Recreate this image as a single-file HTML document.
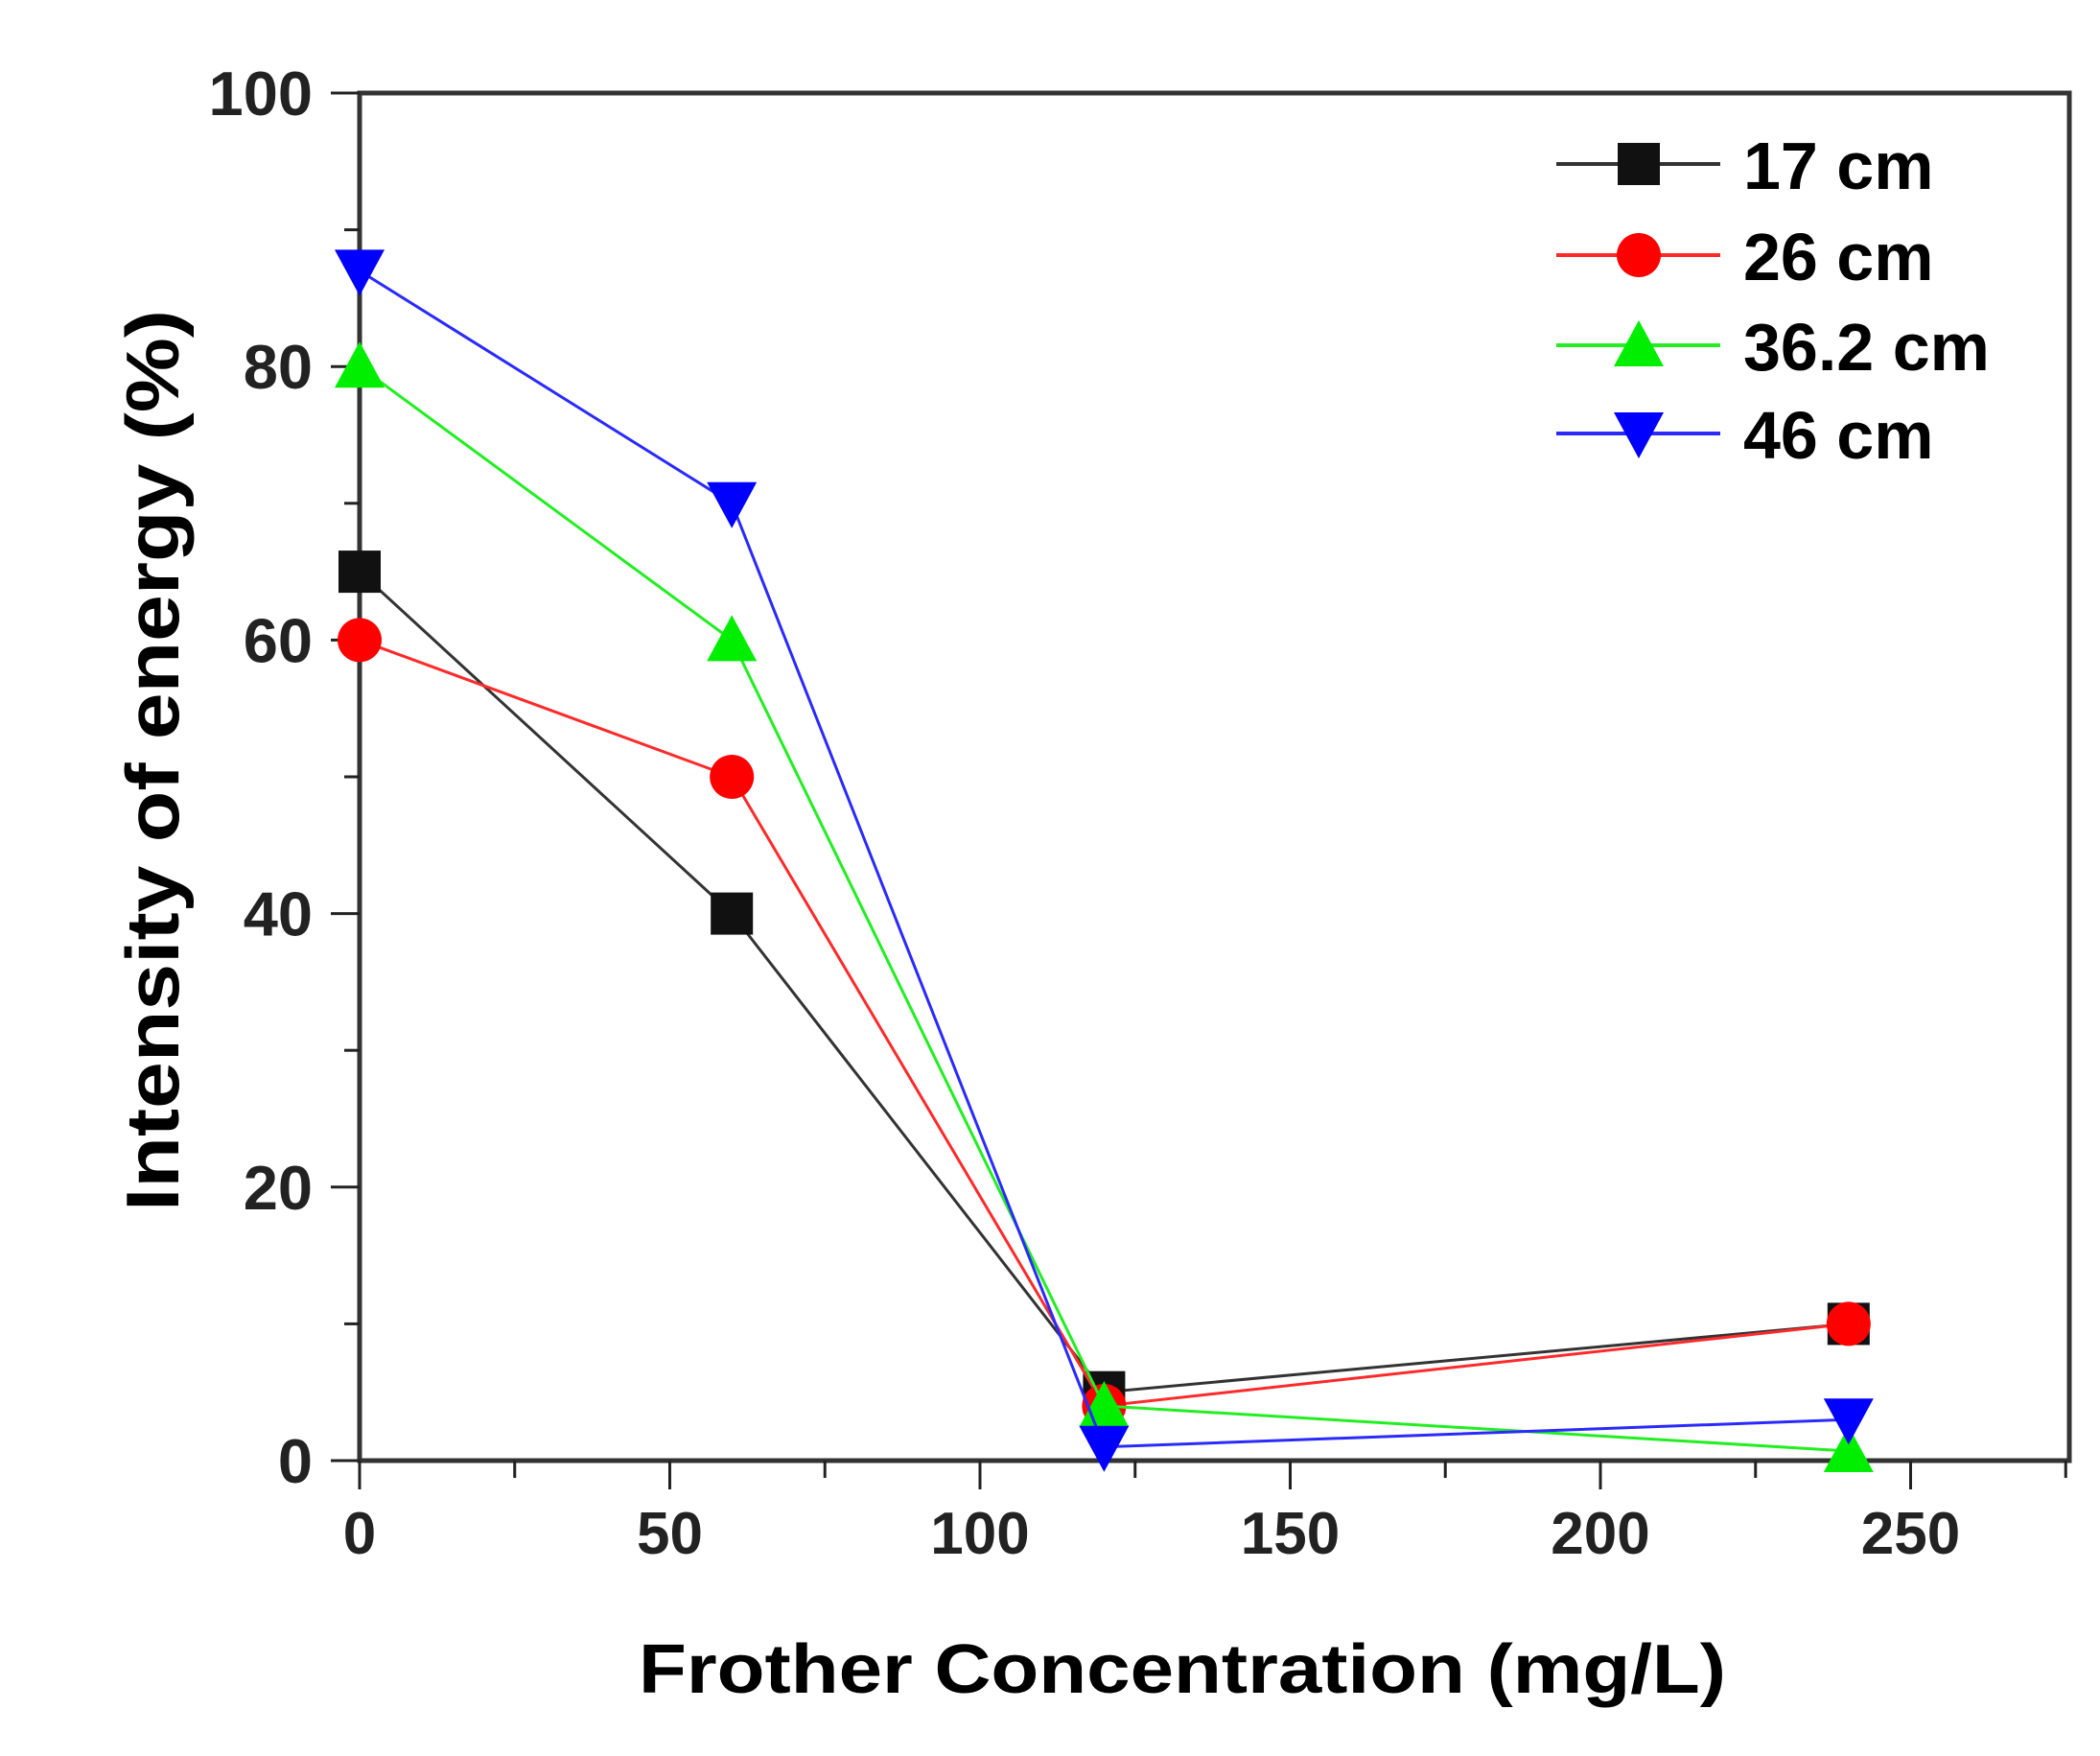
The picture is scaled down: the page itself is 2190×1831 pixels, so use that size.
<!DOCTYPE html>
<html><head><meta charset="utf-8"><style>
html,body{margin:0;padding:0;background:#fff;}
svg{display:block;font-family:"Liberation Sans",Arial,sans-serif;}
</style></head><body>
<svg id="chart" width="2190" height="1831" viewBox="0 0 2190 1831" xmlns="http://www.w3.org/2000/svg">
<rect width="2190" height="1831" fill="#fff"/>
<g id="plot"></g>
</svg>
<script>
const categories = [0, 60, 120, 240];
const s17 = [65, 40, 5, 10];
const s26 = [60, 50, 4, 10];
const s362 = [80, 60, 4, 0.7];
const s46 = [87, 70, 1, 3];
const seriesNames = ["17 cm", "26 cm", "36.2 cm", "46 cm"];
const xTicks = [0, 50, 100, 150, 200, 250];
const yTicks = [0, 20, 40, 60, 80, 100];

const NS = "http://www.w3.org/2000/svg";
const g = document.getElementById("plot");
const X0 = 375, XPX = 6.47, XR = 2158;
const Y0 = 1523, YT = 97, YPX = (Y0 - YT) / 100;
const xs = v => X0 + v * XPX;
const ys = v => Y0 - v * YPX;
function el(tag, attrs, parent) {
  const e = document.createElementNS(NS, tag);
  for (const k in attrs) e.setAttribute(k, attrs[k]);
  (parent || g).appendChild(e);
  return e;
}
const frame = el("rect", {x: X0, y: YT, width: XR - X0, height: Y0 - YT, fill: "none", stroke: "#333", "stroke-width": 5});


for (let v = 0; v <= 275; v += 25) {
  const major = v % 50 === 0;
  const t = el("line", {x1: xs(v), x2: xs(v), y1: Y0, y2: Y0 + (major ? 30 : 18), stroke: "#222", "stroke-width": 3});
  
  
}
xTicks.forEach(v => {
  const t = el("text", {x: xs(v), y: 1620, "text-anchor": "middle", "font-size": 62, "font-weight": "bold", fill: "#222"});
  t.textContent = v;
  
  
});
for (let v = 0; v <= 100; v += 10) {
  const major = v % 20 === 0;
  const t = el("line", {x1: X0, x2: X0 - (major ? 30 : 16), y1: ys(v), y2: ys(v), stroke: "#222", "stroke-width": 3});
  
  
}
yTicks.forEach(v => {
  const t = el("text", {x: 326, y: ys(v) + 23, "text-anchor": "end", "font-size": 65, "font-weight": "bold", fill: "#222"});
  t.textContent = v;
  
  
});
const xt = el("text", {x: 1233, y: 1765, "text-anchor": "middle", "font-size": 72, "font-weight": "bold", fill: "#000", textLength: 1134, lengthAdjust: "spacingAndGlyphs"});
xt.textContent = "Frother Concentration (mg/L)";


const yt = el("text", {x: 0, y: 0, transform: "translate(186,793) rotate(-90)", "text-anchor": "middle", "font-size": 78, "font-weight": "bold", fill: "#000", textLength: 940, lengthAdjust: "spacingAndGlyphs"});
yt.textContent = "Intensity of energy (%)";



function marker(type, cx, cy, color, parent) {
  const r = 22;
  if (type === "square") return el("rect", {x: cx - r, y: cy - r, width: 2 * r, height: 2 * r, fill: color}, parent);
  if (type === "circle") return el("circle", {cx, cy, r: r + 1, fill: color}, parent);
  if (type === "up") return el("polygon", {points: `${cx},${cy - r - 4} ${cx + r + 4},${cy + r} ${cx - r - 4},${cy + r}`, fill: color}, parent);
  return el("polygon", {points: `${cx - r - 4},${cy - r} ${cx + r + 4},${cy - r} ${cx},${cy + r + 4}`, fill: color}, parent);
}
const series = [
  {vals: s17, color: "#111", lc: "#333", m: "square", name: "series-17cm"},
  {vals: s26, color: "#ff0000", lc: "#ff2a2a", m: "circle", name: "series-26cm"},
  {vals: s362, color: "#00ee00", lc: "#22ee22", m: "up", name: "series-36-2cm"},
  {vals: s46, color: "#0000ff", lc: "#2a2aff", m: "down", name: "series-46cm"}
];
series.forEach((s, si) => {
  const grp = el("g", {});
  
  
  const pts = categories.map((c, i) => xs(c) + "," + ys(s.vals[i])).join(" ");
  const pl = el("polyline", {points: pts, fill: "none", stroke: s.lc, "stroke-width": 3}, grp);
  
  
  categories.forEach((c, i) => {
    const m = marker(s.m, xs(c), ys(s.vals[i]), s.color, grp);
    
    
  });
  const ly = [171, 266, 360, 452][si];
  const lg = el("g", {});
  
  
  el("line", {x1: 1623, x2: 1794, y1: ly, y2: ly, stroke: s.lc, "stroke-width": 4}, lg);
  marker(s.m, 1709, ly, s.color, lg);
  const lt = el("text", {x: 1818, y: ly + 26, "font-size": 70, "font-weight": "bold", fill: "#000"}, lg);
  lt.textContent = seriesNames[si];
});
</script>
</body></html>
